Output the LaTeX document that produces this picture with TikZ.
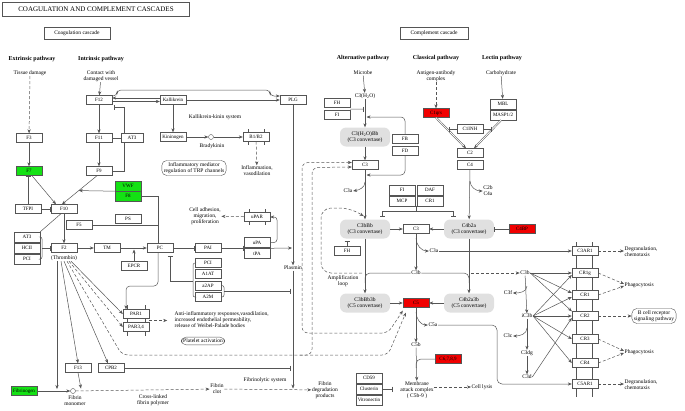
\documentclass[tikz,border=0pt]{standalone}
\usepackage{fontspec}
\setmainfont{Liberation Serif}
\usetikzlibrary{arrows.meta,calc}

\definecolor{kgreen}{RGB}{20,225,20}
\definecolor{kred}{RGB}{240,0,0}
\definecolor{kline}{RGB}{85,85,85}

\tikzset{
  gene/.style={draw=kline, fill=white, minimum width=26pt, minimum height=9pt,
    inner sep=0pt, font=\fontsize{5}{5}\selectfont},
  gfound/.style={gene, fill=kgreen},
  gred/.style={gene, fill=kred},
  cvt/.style={fill=black!12, rounded corners=6pt, minimum width=50pt, minimum height=19pt,
    inner sep=0pt, align=center, font=\fontsize{5.5}{6}\selectfont},
  txt/.style={align=center, inner sep=0.5pt, font=\fontsize{5.5}{6}\selectfont},
  hdr/.style={inner sep=0pt, font=\bfseries\fontsize{6}{6}\selectfont},
  mapbox/.style={draw=kline, rounded corners=5pt, align=center, inner sep=2pt,
    font=\fontsize{5.5}{6}\selectfont},
  lnk/.style={draw=kline, line width=0.5pt},
  act/.style={lnk, -{Stealth[length=4pt,width=3.2pt]}},
  inh/.style={lnk, -{Bar[width=5pt]}},
  ind/.style={act, dash pattern=on 3pt off 2pt},
}

\begin{document}
\begin{tikzpicture}[x=1pt,y=-1pt]
\useasboundingbox (0,0) rectangle (685,410);

% membranes
\draw[lnk] (248,129) -- (248,145) (264,129) -- (264,145);
\draw[lnk] (249,209) -- (249,225) (265,209) -- (265,225);
\draw[lnk] (127,305) -- (127,336) (145,305) -- (145,336);
\draw[kline, line width=0.4pt, double=white, double distance=1pt] (577,242) -- (577,397) (593,242) -- (593,397);

% headings
\node[draw=kline, line width=0.8pt, minimum width=187pt, minimum height=14pt, inner sep=0pt,
  font=\fontsize{7}{7}\selectfont] (title) at (96,9.5) {COAGULATION AND COMPLEMENT CASCADES};
\node[draw=kline, minimum width=66pt, minimum height=12pt, inner sep=0pt,
  font=\fontsize{5.5}{6}\selectfont] (coag) at (77,33) {Coagulation cascade};
\node[draw=kline, minimum width=68pt, minimum height=12pt, inner sep=0pt,
  font=\fontsize{5.5}{6}\selectfont] (compl) at (434,33) {Complement cascade};
\node[hdr] (extr) at (32,59) {Extrinsic pathway};
\node[hdr] (intr) at (101,59) {Intrinsic pathway};
\node[hdr] (altp) at (363,58) {Alternative pathway};
\node[hdr] (clsp) at (436,58) {Classical pathway};
\node[hdr] (lecp) at (502,58) {Lectin pathway};
\node[txt] (tissue) at (30,73) {Tissue damage};
\node[txt] (contact) at (101,76) {Contact with\\damaged vessel};
\node[txt] (microbe) at (363,73) {Microbe};
\node[txt] (agab) at (436,76) {Antigen-antibody\\complex};
\node[txt] (carb) at (501,73) {Carbohydrate};

% coagulation cascade
\node[gene] (f12) at (99,100) {F12};
\node[gene] (kal) at (173,100) {Kallikrein};
\node[gene] (plg) at (293,100) {PLG};
\node[txt] (kks) at (215,117) {Kallikrein-kinin system};
\node[gene] (f3) at (29,138) {F3};
\node[gene] (f11) at (99,138) {F11};
\node[gene, minimum width=22pt] (at3a) at (132,138) {AT3};
\node[gene] (kng) at (173,137) {Kininogen};
\node[circle, draw=kline, fill=white, minimum size=5pt, inner sep=0pt] (bk) at (211,137) {};
\node[txt] (bktxt) at (212,146) {Bradykinin};
\node[gene] (b1b2) at (256,137) {B1/B2};
\node[mapbox] (trp) at (194,168) {Inflammatory mediator\\regulation of TRP channels};
\node[txt] (infl) at (257,171) {Inflammation,\\vasodilation};
\node[gfound] (f7) at (29,171) {F7};
\node[gene] (f9) at (99,171) {F9};
\node[gfound, minimum height=10pt] (vwf) at (128,186) {VWF};
\node[gfound, minimum height=10pt] (f8) at (128,196) {F8};
\node[gene] (tfpi) at (28,209) {TFPI};
\node[gene] (f10) at (64,209) {F10};
\node[gene] (f5) at (79,225) {F5};
\node[gene] (ps) at (128,219) {PS};
\node[txt] (adh) at (205,216) {Cell adhesion,\\migration,\\proliferation};
\node[gene] (upar) at (257,217) {uPAR};
\node[gene, minimum height=10pt] (at3b) at (27,237) {AT3};
\node[gene, minimum height=10pt] (hc2) at (27,248) {HCII};
\node[gene, minimum height=10pt] (pci) at (27,259) {PCI};
\node[gene] (f2) at (64,248) {F2};
\node[txt] (thr) at (64,258) {(Thrombin)};
\node[gene] (tm) at (107,248) {TM};
\node[gene] (epcr) at (134,266) {EPCR};
\node[gene] (pc) at (160,248) {PC};
\node[gene] (pai) at (208,248) {PAI};
\node[gene, minimum height=10pt] (upa) at (257,242.5) {uPA};
\node[gene, minimum height=10pt] (tpa) at (257,253.5) {tPA};
\node[gene] (pci2) at (208,263) {PCI};
\node[gene] (a1at) at (208,274) {A1AT};
\node[gene] (a2ap) at (208,285.5) {a2AP};
\node[gene] (a2m) at (208,297) {A2M};
\node[txt] (plasmin) at (293,268) {Plasmin};
\node[gene] (par1) at (136,314) {PAR1};
\node[gene] (par34) at (136,327) {PAR3,4};
\node[txt, align=left, anchor=west] (antiinf) at (174,320) {Anti-inflammatory responses,vasodilation,\\increased endothelial permeability,\\release of Weibel-Palade bodies};
\node[mapbox] (plt) at (203,341) {Platelet activation};
\node[gene] (f13) at (78,368) {F13};
\node[gene] (cpb2) at (111,368) {CPB2};
\node[gfound] (fbg) at (24,391) {Fibrinogen};
\node[circle, draw=kline, fill=white, minimum size=5pt, inner sep=0pt] (fmono) at (73,391) {};
\node[txt] (fmtxt) at (75,401) {Fibrin\\monomer};
\node[txt] (fpoly) at (153,400) {Cross-linked\\fibrin polymer};
\node[txt] (fclot) at (217,389) {Fibrin\\clot};
\node[txt] (fsys) at (265,380) {Fibrinolytic system};
\node[txt] (fdp) at (325,390) {Fibrin\\degradation\\products};

\draw[ind] (tissue) -- (f3);
\draw[act] (contact) -- (f12);
\draw[act] (f12.east |- 0,101.5) -- (kal.west |- 0,101.5);
\draw[act] (kal.west |- 0,98) -- (f12.east |- 0,98);
\draw[act, rounded corners=4pt] (f12.east |- 0,96) -- (117,96) -- (117,90) -- (270,90) -- (270,96) -- (plg.west |- 0,96);
\draw[act] (kal) -- (plg);
\draw[inh] ([xshift=3pt]at3a.north west) |- (114,107);
\draw[inh] (at3a) -- (f11);
\draw[inh] ([xshift=3pt]at3a.south west) |- (f9.east);
\draw[act] (f12) -- (f11);
\draw[act] (f11) -- (f9);
\draw[act] (f3) -- (f7);
\draw[act] (kal) -- (kng);
\draw[act] (kng) -- (bk);
\draw[act] (bk) -- (b1b2);
\draw[ind] (b1b2) -- (infl);
\draw[act] ([xshift=3pt]f7.south) -- ([xshift=-8pt]f10.north);
\draw[act] ([xshift=-2pt]f9.south) -- coordinate[pos=0.52] (f9mid) ([xshift=-2pt]f10.north);
\draw[act] (vwf.south west) -- (f9mid);
\draw[inh] (tfpi) -- (tfpi |- f7.south);
\draw[inh] (tfpi) -- (f10);
\draw[lnk] (at3b.north east) -- ([xshift=-3pt]f10.south);
\draw[lnk, rounded corners=2pt] (at3b.east) -- (42,237) -- (42,259) -- (pci.east);
\draw[inh] (42,248) -- (f2);
\draw[act] (f10) -- (f2);
\draw[act] (f2) -- (tm);
\draw[act] (tm) -- (pc);
\draw[act] (epcr) -- (134,249.5);
\draw[inh] (pc) -- (pai);
\draw[inh] (pai) -- (pai -| upa.west);
\draw[act] (tpa.north east) -- (292,248);
\draw[act, rounded corners=3pt] (upa.east) -- (277,242.5) |- (upar.east);
\draw[ind] (upar) -- (adh);
\draw[inh] ([xshift=-2pt]pc.north) |- (f8.east);
\draw[inh] ([xshift=-2pt]pc.north |- f5) -- (f5.east);
\draw[act, rounded corners=4pt] ([xshift=-2pt]pc.south) -- (158,286) -- (126,286) -- ([xshift=-10pt]par1.north);
\draw[lnk, rounded corners=2pt] (pci2.west) -- (193,263) -- (193,297) -- (a2m.west);
\draw[inh] (193,281) -| ([shift={(10pt,-3pt)}]pc.south);
\draw[lnk, rounded corners=2pt] (a2ap.east) -- (224,285.5) -- (224,297) -- (a2m.east);
\draw[inh] (224,291) -- (290,291);
\draw[ind] ($(par1.south east)!.5!(par34.north east)$) -- ++(18,0);
\draw[act] ([xshift=-7pt]thr.south) -- ([xshift=-7pt]thr.south |- 0,389);
\draw[act] ([xshift=-3pt]thr.south) -- (f13.north);
\draw[act] (thr.south) -- ([xshift=-3pt]cpb2.north);
\draw[ind] ([xshift=5pt]thr.south) -- (par34.west);
\draw[act] ([xshift=7pt]thr.south) -- (par1.west);
\draw[act] (fbg) -- (fmono);
\draw[ind] (fmono) -- (fclot);
\draw[act] (f13.south) -- (81,388.5);
\draw[ind] (fclot) -- (fdp);
\draw[act] (plg) -- (plasmin);
\draw[act] (plasmin) -- (293,388.5);
\draw[inh] (cpb2) -- (290,368);

% complement cascade
\node[txt] (c3h2o) at (365,96) {C3(H\textsubscript{2}O)};
\node[gene] (fh) at (337,103) {FH};
\node[gene] (fi) at (337,115) {FI};
\node[cvt] (c3h2obb) at (365,137) {C3(H\textsubscript{2}O)Bb\\(C3 convertase)};
\node[gene] (fb) at (405,139) {FB};
\node[gene] (fd) at (405,151) {FD};
\node[gene] (c3up) at (365,165) {C3};
\node[gred] (c1qrs) at (436,113) {C1qrs};
\node[gene, minimum height=10pt] (mbl) at (503,104) {MBL};
\node[gene, minimum height=10pt] (masp) at (503,115) {MASP1/2};
\node[gene] (c1inh) at (470,129) {C1INH};
\node[gene] (c2) at (470,153) {C2};
\node[gene] (c4) at (470,165) {C4};
\node[txt] (c3atop) at (348,191) {C3a};
\node[txt] (c2b) at (488,191) {C2b\\C4a};
\node[gene, minimum height=10pt] (fi2) at (402,190) {FI};
\node[gene, minimum height=10pt] (daf) at (430,190) {DAF};
\node[gene, minimum height=10pt] (mcp) at (402,201) {MCP};
\node[gene, minimum height=10pt] (cr1a) at (430,201) {CR1};
\node[cvt] (c3bbb) at (365,229) {C3bBb\\(C3 convertase)};
\node[gene] (c3mid) at (416,229) {C3};
\node[cvt] (c4b2a) at (469,229) {C4b2a\\(C3 convertase)};
\node[gred] (c4bp) at (522,229) {C4BP};
\node[gene] (fh2) at (347,251) {FH};
\node[txt] (c3amid) at (434,251) {C3a};
\node[txt] (c3bmid) at (416,273) {C3b};
\node[txt] (amp) at (343,281) {Amplification\\loop};
\node[cvt] (c5cvt) at (365,303) {C3bBb3b\\(C5 convertase)};
\node[gred] (c5) at (416,303) {C5};
\node[cvt] (c5cvt2) at (469,303) {C4b2a3b\\(C5 convertase)};
\node[txt] (c5a) at (433,325) {C5a};
\node[txt] (c5b) at (416,345) {C5b};
\node[gred] (c6) at (448,359) {C6,7,8,9};
\node[gene, minimum height=10pt] (cd59) at (369,378) {CD59};
\node[gene, minimum height=10pt] (clu) at (369,389) {Clusterin};
\node[gene, minimum height=10pt] (vtn) at (369,400) {Vitronectin};
\node[txt] (mac) at (417,390) {Membrane\\attack complex\\( C5b-9 )};
\node[txt] (lysis) at (482,387) {Cell lysis};

% receptors
\node[txt] (c3bR) at (525,273) {C3b};
\node[txt] (c3f) at (508,293) {C3f};
\node[txt] (ic3b) at (527,316) {iC3b};
\node[txt] (c3c) at (508,336) {C3c};
\node[txt] (c3dg) at (527,353) {C3dg};
\node[txt] (c3d) at (527,377) {C3d};
\node[gene] (c3ar1) at (585,251) {C3AR1};
\node[gene] (cr1g) at (585,273) {CR1g};
\node[gene] (cr1b) at (585,295) {CR1};
\node[gene] (cr2) at (585,316) {CR2};
\node[gene] (cr3) at (585,339) {CR3};
\node[gene] (cr4) at (585,363) {CR4};
\node[gene] (c5ar1) at (585,384) {C5AR1};
\node[txt, align=left, anchor=west] (degr1) at (624,252) {Degranulation,\\chemotaxis};
\node[txt, anchor=west] (phag1) at (624,285) {Phagocytosis};
\node[mapbox] (bcr) at (654,316) {B cell receptor\\signaling pathway};
\node[txt, anchor=west] (phag2) at (624,352) {Phagocytosis};
\node[txt, align=left, anchor=west] (degr2) at (624,385) {Degranulation,\\chemotaxis};

\draw[act] (microbe) -- (c3h2o);
\draw[act] (c3h2o) -- (c3h2obb);
\draw[inh] ($(fh.south east)!.5!(fi.north east)$) -- (363.5,109);
\draw[act, rounded corners=4pt] (fb.north) |- (366.5,117);
\draw[act, rounded corners=4pt] (fd.south) |- (366.5,175);
\draw[act] (c3h2obb) -- (c3up);
\draw[act] (c3up) -- (c3bbb);
\draw[act] (365,182) to[out=-90,in=10] (c3atop.east);
\draw[ind] (agab) -- (c1qrs);
\draw[act] (carb) -- (mbl);
\draw[act, double distance=0.8pt] (c1qrs.south) -- ([xshift=-4pt]c2.north);
\draw[act, double distance=0.8pt] ([xshift=-2pt]masp.south) -- ([xshift=4pt]c2.north);
\draw[inh] (c1inh.west) -- (449,129);
\draw[inh] (c1inh.east) -- (491,129);
\draw[act] (c4) -- (c4b2a);
\draw[act] (470,181) to[out=-90,in=180] (c2b.west);
\draw[inh] (416,206) -- (416,211) -| (382,216.5);
\draw[inh] (416,211) -| (453,216.5);
\draw[act] (c3bbb) -- (c3mid);
\draw[act] (c4b2a) -- (c3mid);
\draw[inh] (c4bp) -- (c4b2a);
\draw[inh] (fh2) -- (347,241);
\draw[act] (c3mid) -- (c3bmid);
\draw[act] (416,238) to[out=-90,in=180] (c3amid.west);
\draw[act] (c3amid) -- (c3ar1);
\draw[lnk, rounded corners=5pt] (c3bmid.west) -- (365,273) -- (365,283);
\draw[lnk, rounded corners=5pt] (c3bmid.east) -- (469,273) -- (469,283);
\draw[ind] (471,273) -- (c3bR);
\draw[ind, rounded corners=10pt] (362,273) -- (321,273) -- (321,208) -- (350,208) -- (363.5,216);
\draw[act] (c3bbb) -- (c5cvt);
\draw[act] (c4b2a) -- (c5cvt2);
\draw[act] (c5cvt) -- (c5);
\draw[act] (c5cvt2) -- (c5);
\draw[act] (c5) -- (c5b);
\draw[act] (416,312) to[out=-90,in=180] (c5a.west);
\draw[act, rounded corners=5pt] (c5a.east) -- (497,325) -- (497,384) -- (c5ar1.west);
\draw[act] (c5b) -- (mac);
\draw[lnk, rounded corners=5pt] (c6.west) -| (416,368);
\draw[inh] (clu) -- (392,389);
\draw[ind] (mac.east |- lysis) -- (lysis);

% thrombin and plasmin on C3 and C5
\draw[ind, {Stealth[length=4pt,width=3.2pt]}-{Stealth[length=4pt,width=3.2pt]}, rounded corners=6pt]
  ([yshift=2.5pt]c3up.west) -- (302,162.5) -- (302,333) -- (388,333) -- ([shift={(0pt,-3pt)}]c5.south west);
\draw[ind, rounded corners=6pt] ([xshift=3pt]thr.south) -- (122,355) -- (312,355) -- (312,167.5) -- ([yshift=-2pt]c3up.west);
\draw[ind, rounded corners=6pt] (300,355) -- (388,355) -- ([shift={(3pt,-5pt)}]c5.south west);

\draw[act] (c3bR) -- (ic3b);
\draw[act] (527,286) to[out=-90,in=0] (c3f.east);
\draw[act] (ic3b) -- (c3dg);
\draw[act] (527,328) to[out=-90,in=0] (c3c.east);
\draw[act] (c3dg) -- (c3d);
\draw[act] (c3bR.east) -- (cr1g.west);
\draw[act] (c3bR.east) -- ([yshift=2pt]cr1b.west);
\draw[act] (c3bR.east) -- (cr2.north west);
\draw[act] (ic3b.east) -- ([yshift=-2pt]cr1g.west);
\draw[act] (ic3b.east) -- ([yshift=-2pt]cr1b.west);
\draw[act] (ic3b.east) -- (cr2.west);
\draw[act] (ic3b.east) -- (cr3.west);
\draw[act] (ic3b.east) -- (cr4.west);
\draw[act] (c3d.east) -- ([yshift=-2pt]cr2.west);
\draw[ind] (c3ar1) -- (c3ar1 -| degr1.west);
\draw[ind] (cr1g.east) -- ([yshift=1pt]phag1.west);
\draw[ind] (cr1b.east) -- ([yshift=-1pt]phag1.west);
\draw[ind] (cr2) -- (bcr);
\draw[ind] (cr3.east) -- ([yshift=1pt]phag2.west);
\draw[ind] (cr4.east) -- ([yshift=-1pt]phag2.west);
\draw[ind] (c5ar1) -- (c5ar1 -| degr2.west);
\end{tikzpicture}
\end{document}
